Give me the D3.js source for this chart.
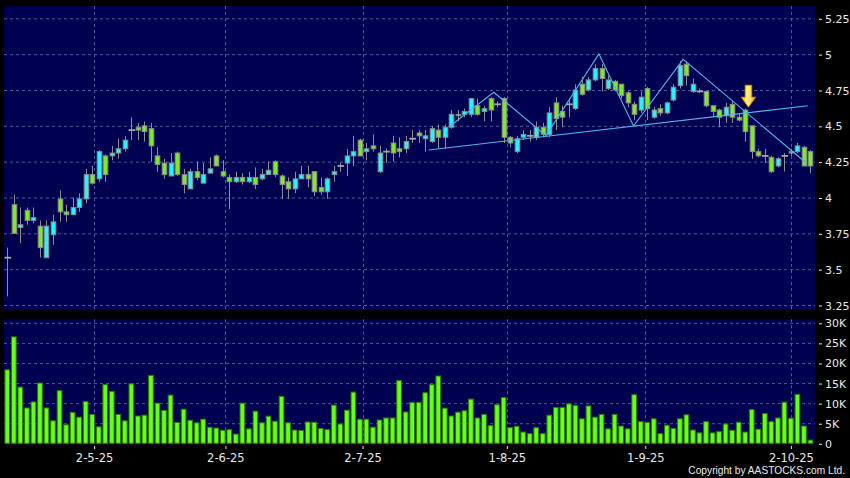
<!DOCTYPE html>
<html><head><meta charset="utf-8">
<script src="https://cdn.jsdelivr.net/npm/d3@7/dist/d3.min.js"></script>
<style>html,body{margin:0;padding:0;background:#000;}svg{display:block;}</style>
</head><body>
<svg id="c" width="850" height="478"></svg>
<script>
const opens  = [3.58,3.95,3.79,3.91,3.84,3.80,3.58,3.74,3.99,3.90,3.88,3.93,3.99,4.16,4.13,4.29,4.29,4.31,4.34,4.47,4.49,4.50,4.48,4.29,4.24,4.15,4.31,4.16,4.06,4.18,4.10,4.17,4.29,4.18,4.14,4.11,4.14,4.11,4.14,4.13,4.16,4.25,4.15,4.11,4.06,4.13,4.16,4.18,4.07,4.04,4.16,4.22,4.24,4.29,4.40,4.32,4.36,4.18,4.32,4.38,4.34,4.34,4.41,4.45,4.41,4.39,4.47,4.42,4.49,4.58,4.58,4.58,4.64,4.60,4.69,4.65,4.69,4.42,4.32,4.42,4.43,4.42,4.49,4.44,4.66,4.60,4.65,4.62,4.79,4.75,4.82,4.90,4.76,4.81,4.79,4.73,4.65,4.61,4.76,4.56,4.62,4.59,4.68,4.78,4.93,4.74,4.74,4.74,4.64,4.61,4.57,4.65,4.56,4.61,4.50,4.32,4.29,4.28,4.22,4.29,4.31,4.32,4.35,4.32];
const highs  = [3.65,4.02,3.93,3.93,3.93,3.84,3.84,3.88,4.05,3.95,4.00,4.03,4.20,4.22,4.33,4.30,4.36,4.41,4.43,4.56,4.52,4.53,4.52,4.35,4.27,4.31,4.32,4.20,4.20,4.25,4.24,4.28,4.30,4.26,4.16,4.18,4.17,4.18,4.21,4.20,4.25,4.26,4.16,4.14,4.18,4.22,4.22,4.18,4.14,4.14,4.22,4.24,4.34,4.43,4.41,4.38,4.44,4.36,4.34,4.43,4.42,4.43,4.47,4.47,4.47,4.50,4.51,4.51,4.61,4.61,4.62,4.69,4.69,4.64,4.70,4.67,4.70,4.43,4.43,4.47,4.47,4.53,4.52,4.63,4.70,4.64,4.69,4.79,4.84,4.84,4.93,4.93,4.85,4.82,4.79,4.74,4.67,4.74,4.77,4.63,4.65,4.67,4.79,4.95,4.95,4.83,4.76,4.74,4.64,4.62,4.66,4.67,4.59,4.62,4.50,4.34,4.34,4.29,4.28,4.31,4.34,4.38,4.36,4.33];
const lows   = [3.31,3.75,3.68,3.81,3.82,3.58,3.58,3.67,3.83,3.83,3.88,3.90,3.96,4.09,4.11,4.11,4.26,4.27,4.32,4.40,4.40,4.39,4.25,4.18,4.13,4.15,4.15,4.03,4.06,4.12,4.10,4.17,4.22,4.14,3.92,4.10,4.09,4.10,4.06,4.12,4.16,4.14,3.99,3.99,4.03,4.13,4.07,4.01,4.02,3.99,4.11,4.18,4.15,4.22,4.29,4.26,4.32,4.17,4.24,4.25,4.28,4.31,4.38,4.38,4.32,4.38,4.34,4.34,4.48,4.53,4.56,4.56,4.57,4.53,4.53,4.63,4.38,4.35,4.31,4.40,4.39,4.40,4.42,4.42,4.47,4.49,4.56,4.61,4.71,4.74,4.81,4.74,4.75,4.74,4.69,4.63,4.54,4.59,4.54,4.55,4.57,4.58,4.67,4.76,4.78,4.73,4.73,4.63,4.56,4.49,4.52,4.52,4.53,4.39,4.27,4.28,4.24,4.17,4.21,4.18,4.29,4.31,4.22,4.17];
const closes = [3.58,3.75,3.81,3.84,3.86,3.65,3.80,3.83,3.90,3.88,3.93,3.99,4.16,4.10,4.32,4.16,4.31,4.34,4.40,4.47,4.47,4.46,4.36,4.23,4.16,4.24,4.16,4.09,4.18,4.14,4.16,4.20,4.22,4.15,4.11,4.14,4.11,4.14,4.09,4.16,4.19,4.16,4.09,4.06,4.13,4.16,4.13,4.04,4.04,4.13,4.18,4.22,4.29,4.32,4.29,4.34,4.34,4.31,4.32,4.31,4.32,4.39,4.41,4.43,4.43,4.48,4.42,4.49,4.58,4.57,4.60,4.69,4.58,4.62,4.61,4.65,4.42,4.38,4.41,4.44,4.43,4.49,4.44,4.59,4.55,4.56,4.65,4.75,4.72,4.82,4.90,4.83,4.82,4.75,4.71,4.66,4.58,4.70,4.62,4.61,4.59,4.66,4.77,4.92,4.85,4.79,4.74,4.64,4.60,4.56,4.63,4.56,4.54,4.46,4.32,4.29,4.29,4.18,4.27,4.29,4.32,4.36,4.22,4.22];
const volumes = [18.3,26.5,14.0,8.8,10.3,15.0,8.8,5.6,13.1,4.6,7.7,6.5,10.4,7.2,4.1,14.6,12.9,7.2,5.6,14.8,6.8,7.0,16.9,10.0,8.2,12.0,5.2,8.5,5.75,5.1,6.0,4.0,3.8,3.25,3.4,2.3,10.0,3.6,8.0,5.1,6.75,5.5,11.7,5.1,3.3,3.2,5.3,5.25,3.7,3.4,9.5,4.8,8.25,12.75,6.0,6.0,4.0,5.8,6.3,6.3,15.6,7.8,10.2,10.2,12.6,14.6,16.75,8.75,6.8,7.75,8.1,11.0,6.3,7.2,4.4,9.6,11.4,3.9,4.25,2.8,2.4,3.9,2.4,7.0,8.9,8.9,9.8,9.4,6.1,9.3,6.5,7.2,3.6,7.2,4.3,3.6,12.1,5.4,5.2,6.1,2.4,4.5,3.7,6.1,7.1,3.3,2.6,5.4,2.6,2.9,4.8,3.25,5.25,2.8,8.4,3.5,7.4,5.4,6.3,10.25,6.25,12.2,4.3,0.8];
const priceTicks = [3.25,3.5,3.75,4,4.25,4.5,4.75,5,5.25];
const volTicks = [0,5,10,15,20,25,30];
const dateTickPos = [13.3,33.4,54.4,76.5,97.7,120];
const dateLabels = ["2-5-25","2-6-25","2-7-25","1-8-25","1-9-25","2-10-25"];
const neckline = [[64.5,4.331],[122.6,4.640]];
const zigzag = [[67.8,4.499],[74.5,4.734],[82.5,4.432],[90.6,5.001],[95.9,4.499],[103.5,4.964],[122.4,4.239]];
const arrowAt = [113.5,4.63];

const svg = d3.select("#c");
const N = opens.length;
const x = d3.scaleLinear().domain([-0.5, N-0.5]).range([4.03, 4.03+N*6.53]);
const y = d3.scaleLinear().domain([3.25,5.25]).range([305,18.3]);
const yv = d3.scaleLinear().domain([0,30]).range([443.3,322.8]);
const L = 4, R = 815;
const P1 = [6,310], P2 = [319.3,443.3];
const font = "DejaVu Sans, Verdana, sans-serif";

svg.append("rect").attr("width",850).attr("height",478).attr("fill","#000");
svg.append("rect").attr("x",L).attr("y",P1[0]).attr("width",R-L).attr("height",P1[1]-P1[0]).attr("fill","#000050");
svg.append("rect").attr("x",L).attr("y",P2[0]).attr("width",R-L).attr("height",P2[1]-P2[0]).attr("fill","#000050");

const gridC = "#55579a";
svg.append("g").selectAll("line").data(priceTicks).join("line")
  .attr("x1",L).attr("x2",R).attr("y1",d=>y(d)+0.5).attr("y2",d=>y(d)+0.5)
  .attr("stroke",gridC).attr("stroke-dasharray","3,3");
svg.append("g").selectAll("line").data(volTicks.filter(d=>d>0)).join("line")
  .attr("x1",L).attr("x2",R).attr("y1",d=>yv(d)+0.5).attr("y2",d=>yv(d)+0.5)
  .attr("stroke",gridC).attr("stroke-dasharray","3,3");
[P1,P2].forEach(p=>{
  svg.append("g").selectAll("line").data(dateTickPos).join("line")
    .attr("x1",d=>Math.round(x(d))+0.5).attr("x2",d=>Math.round(x(d))+0.5)
    .attr("y1",p[0]).attr("y2",p[1])
    .attr("stroke",gridC).attr("stroke-dasharray","3,3");
});

const axC = "#e8e8e8";
const ya = d3.axisRight(y).tickValues(priceTicks).tickSize(3).tickPadding(3).tickFormat(d=>d3.format("")(d));
const gy = svg.append("g").attr("transform","translate(819,0.5)").call(ya);
const yva = d3.axisRight(yv).tickValues(volTicks).tickSize(3).tickPadding(3).tickFormat(d=>d===0?"0":d+"K");
const gv = svg.append("g").attr("transform","translate(819,0.5)").call(yva);
[gy,gv].forEach(g=>{
  g.select(".domain").remove();
  g.selectAll("line").attr("stroke",axC);
  g.selectAll("text").attr("fill",axC).style("font-family",font).style("font-size","11px");
});
const xa = d3.axisBottom(x).tickValues(dateTickPos).tickSize(3).tickPadding(5).tickFormat((d,i)=>dateLabels[i]);
const gx = svg.append("g").attr("transform","translate(0,446)").call(xa);
gx.select(".domain").remove();
gx.selectAll("line").attr("stroke",axC);
gx.selectAll("text").attr("fill",axC).style("font-family",font).style("font-size","11.5px");

svg.append("text").attr("x",845).attr("y",474).attr("text-anchor","end")
  .attr("fill",axC).style("font-family","Liberation Sans, Arial, sans-serif").style("font-size","10.2px")
  .text("Copyright by AASTOCKS.com Ltd.");

const vw = 4.7;
svg.append("g").selectAll("rect").data(volumes).join("rect")
  .attr("x",(d,i)=>x(i)-vw/2).attr("width",vw)
  .attr("y",d=>yv(d)).attr("height",d=>yv(0)-yv(d))
  .attr("fill","#66ff1a").attr("stroke","#2f7a00").attr("stroke-width",1);

const data = opens.map((o,i)=>({i,o,h:highs[i],l:lows[i],c:closes[i]}));
const bw = 4.6;
const cg = svg.append("g");
cg.selectAll("line.w").data(data).join("line").attr("class","w")
  .attr("x1",d=>Math.round(x(d.i))+0.5).attr("x2",d=>Math.round(x(d.i))+0.5)
  .attr("y1",d=>y(d.h)).attr("y2",d=>y(d.l))
  .attr("stroke","#8e8e8e").attr("stroke-width",1);
cg.selectAll("rect").data(data.filter(d=>d.o!==d.c)).join("rect")
  .attr("x",d=>Math.round(x(d.i))+0.5-bw/2).attr("width",bw)
  .attr("y",d=>y(Math.max(d.o,d.c))).attr("height",d=>Math.max(1,Math.abs(y(d.o)-y(d.c))))
  .attr("fill",d=>d.c>d.o?"#2af0ff":"#7ee82a")
  .attr("stroke","#8a8a8a").attr("stroke-width",1);
cg.selectAll("line.dj").data(data.filter(d=>d.o===d.c)).join("line").attr("class","dj")
  .attr("x1",d=>x(d.i)-bw/2-0.5).attr("x2",d=>x(d.i)+bw/2+1.5)
  .attr("y1",d=>y(d.o)).attr("y2",d=>y(d.o))
  .attr("stroke","#a6a6a6").attr("stroke-width",1.8);

const ln = d3.line().x(d=>x(d[0])).y(d=>y(d[1]));
svg.append("path").attr("d",ln(neckline)).attr("fill","none").attr("stroke","#52b4ea").attr("stroke-width",1.1);
svg.append("path").attr("d",ln(zigzag)).attr("fill","none").attr("stroke","#52b4ea").attr("stroke-width",1.1);

const defs = svg.append("defs");
const gr = defs.append("linearGradient").attr("id","ag").attr("x1","0").attr("x2","1").attr("y1","0").attr("y2","0");
gr.append("stop").attr("offset","0").attr("stop-color","#ffc400");
gr.append("stop").attr("offset","0.45").attr("stop-color","#fff38a");
gr.append("stop").attr("offset","1").attr("stop-color","#f0a800");
const ax0 = x(arrowAt[0]), ay0 = y(arrowAt[1]);
const pts = [[ax0-3.3,ay0-22],[ax0+3.3,ay0-22],[ax0+3.3,ay0-10],[ax0+7.2,ay0-10],[ax0,ay0],[ax0-7.2,ay0-10],[ax0-3.3,ay0-10]];
svg.append("polygon").attr("points",pts.map(p=>p.join(",")).join(" "))
  .attr("fill","url(#ag)").attr("stroke","#d88a00").attr("stroke-width",0.8);
</script>
</body></html>
